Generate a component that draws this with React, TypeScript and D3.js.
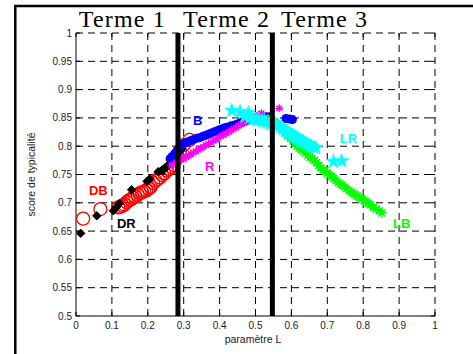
import React from "react";
import * as d3 from "d3";

const W = 473;
const H = 354;

const xTicks = [0, 0.1, 0.2, 0.3, 0.4, 0.5, 0.6, 0.7, 0.8, 0.9, 1];
const yTicks = [0.5, 0.55, 0.6, 0.65, 0.7, 0.75, 0.8, 0.85, 0.9, 0.95, 1];
const xTickLabels = ["0", "0.1", "0.2", "0.3", "0.4", "0.5", "0.6", "0.7", "0.8", "0.9", "1"];
const yTickLabels = ["0.5", "0.55", "0.6", "0.65", "0.7", "0.75", "0.8", "0.85", "0.9", "0.95", "1"];

const titles = ["Terme 1", "Terme 2", "Terme 3"];
const titleX = [0.008, 0.298, 0.571];

const boundaries = [0.284, 0.547];

// DB : red open circles
const dbX = [0.02, 0.068, 0.118, 0.124, 0.13, 0.135, 0.141, 0.147, 0.153, 0.158, 0.165, 0.172, 0.178, 0.184, 0.19, 0.196, 0.202, 0.208, 0.215, 0.222, 0.228, 0.234, 0.24, 0.246, 0.253, 0.26, 0.266, 0.272, 0.28, 0.29, 0.3, 0.316];
const dbY = [0.672, 0.689, 0.692, 0.693, 0.695, 0.697, 0.701, 0.704, 0.706, 0.709, 0.711, 0.714, 0.717, 0.719, 0.72, 0.722, 0.725, 0.728, 0.735, 0.739, 0.742, 0.745, 0.749, 0.752, 0.757, 0.76, 0.763, 0.767, 0.778, 0.792, 0.802, 0.811];

// DR : black diamonds
const drX = [0.013, 0.058, 0.104, 0.112, 0.121, 0.155, 0.198, 0.205, 0.229, 0.238, 0.243, 0.25, 0.255, 0.26, 0.265, 0.27, 0.275, 0.28, 0.287, 0.295];
const drY = [0.646, 0.677, 0.686, 0.692, 0.699, 0.723, 0.738, 0.742, 0.755, 0.757, 0.758, 0.762, 0.765, 0.768, 0.772, 0.776, 0.779, 0.784, 0.789, 0.795];

// B : blue filled circles
const bX = [0.262, 0.268, 0.275, 0.282, 0.29, 0.298, 0.305, 0.312, 0.32, 0.328, 0.336, 0.344, 0.352, 0.36, 0.368, 0.376, 0.384, 0.392, 0.4, 0.408, 0.416, 0.424, 0.432, 0.44, 0.448, 0.456, 0.464, 0.472, 0.48, 0.488, 0.496, 0.504, 0.512, 0.52, 0.53, 0.54, 0.585, 0.595, 0.603];
const bY = [0.778, 0.782, 0.787, 0.793, 0.799, 0.804, 0.806, 0.808, 0.81, 0.812, 0.814, 0.815, 0.817, 0.819, 0.821, 0.823, 0.825, 0.827, 0.829, 0.831, 0.833, 0.834, 0.836, 0.837, 0.839, 0.841, 0.843, 0.845, 0.847, 0.848, 0.849, 0.85, 0.851, 0.851, 0.852, 0.852, 0.849, 0.848, 0.847];

// R : magenta stars (plus-like)
const rX = [0.265, 0.272, 0.28, 0.287, 0.294, 0.3, 0.307, 0.314, 0.32, 0.327, 0.334, 0.341, 0.348, 0.355, 0.362, 0.369, 0.376, 0.383, 0.39, 0.397, 0.404, 0.411, 0.418, 0.425, 0.432, 0.439, 0.446, 0.453, 0.46, 0.467, 0.474, 0.481, 0.488, 0.495, 0.502, 0.509, 0.517, 0.566];
const rY = [0.766, 0.768, 0.771, 0.774, 0.776, 0.778, 0.781, 0.783, 0.786, 0.789, 0.791, 0.794, 0.796, 0.799, 0.802, 0.804, 0.807, 0.81, 0.812, 0.815, 0.818, 0.82, 0.823, 0.825, 0.828, 0.831, 0.833, 0.836, 0.839, 0.841, 0.844, 0.846, 0.849, 0.851, 0.853, 0.855, 0.858, 0.867];

// LB : green asterisks
const lbX = [0.525, 0.535, 0.545, 0.552, 0.56, 0.567, 0.575, 0.582, 0.59, 0.597, 0.604, 0.61, 0.616, 0.622, 0.628, 0.634, 0.64, 0.646, 0.652, 0.658, 0.664, 0.67, 0.676, 0.682, 0.688, 0.694, 0.7, 0.706, 0.712, 0.718, 0.724, 0.73, 0.736, 0.742, 0.748, 0.754, 0.76, 0.766, 0.772, 0.778, 0.784, 0.79, 0.796, 0.802, 0.808, 0.814, 0.82, 0.828, 0.836, 0.845, 0.852];
const lbY = [0.849, 0.848, 0.846, 0.843, 0.84, 0.835, 0.829, 0.824, 0.818, 0.814, 0.809, 0.806, 0.8, 0.797, 0.794, 0.791, 0.788, 0.784, 0.78, 0.778, 0.775, 0.771, 0.766, 0.762, 0.758, 0.757, 0.752, 0.749, 0.747, 0.743, 0.74, 0.736, 0.733, 0.731, 0.728, 0.725, 0.722, 0.719, 0.717, 0.714, 0.712, 0.71, 0.707, 0.704, 0.702, 0.699, 0.697, 0.692, 0.689, 0.686, 0.682];

// LR : cyan stars
const lrX = [0.434, 0.457, 0.48, 0.47, 0.485, 0.495, 0.503, 0.51, 0.518, 0.525, 0.532, 0.54, 0.548, 0.556, 0.563, 0.57, 0.577, 0.584, 0.59, 0.596, 0.602, 0.608, 0.614, 0.62, 0.626, 0.632, 0.638, 0.644, 0.65, 0.656, 0.662, 0.668, 0.717, 0.74];
const lrY = [0.863, 0.861, 0.859, 0.852, 0.85, 0.848, 0.846, 0.847, 0.845, 0.844, 0.842, 0.84, 0.839, 0.838, 0.836, 0.834, 0.83, 0.827, 0.825, 0.822, 0.82, 0.818, 0.815, 0.813, 0.81, 0.809, 0.806, 0.804, 0.802, 0.8, 0.798, 0.797, 0.773, 0.774];

const labelText = ["DB", "DR", "B", "R", "LR", "LB"];
const labelX = [0.036, 0.114, 0.326, 0.359, 0.735, 0.883];
const labelY = [0.714, 0.6555, 0.8375, 0.756, 0.806, 0.6555];
const labelColor = ["#ff0000", "#000000", "#0000ff", "#ff00ff", "#00ffff", "#00ff00"];

export default function App() {
  const x = d3.scaleLinear().domain([0, 1]).range([76, 435]);
  const y = d3.scaleLinear().domain([0.5, 1]).range([316, 33]);
  const star = d3.symbol().type(d3.symbolStar).size(60)() as string;
  const sans = "'Liberation Sans', Arial, sans-serif";
  const tl = 4;

  return (
    <svg width={W} height={H} style={{ position: "fixed", left: 0, top: 0, background: "#fff" }}>
      <rect x={0} y={0} width={W} height={H} fill="#fff" />
      <rect x={15.3} y={6} width={480} height={400} fill="none" stroke="#000" strokeWidth={2.5} />

      {/* grid */}
      {xTicks.slice(1).map((t, i) => (
        <line key={"gx" + i} x1={x(t)} x2={x(t)} y1={y(0.5)} y2={y(1)} stroke="#000" strokeWidth={1} strokeDasharray="7,5" />
      ))}
      {yTicks.slice(1).map((t, i) => (
        <line key={"gy" + i} x1={x(0)} x2={x(1)} y1={y(t)} y2={y(t)} stroke="#000" strokeWidth={1} strokeDasharray="7,5" />
      ))}

      {/* axes */}
      <line x1={x(0)} x2={x(1)} y1={y(0.5)} y2={y(0.5)} stroke="#000" />
      <line x1={x(0)} x2={x(0)} y1={y(0.5)} y2={y(1)} stroke="#000" />
      {xTicks.map((t, i) => (
        <g key={"tx" + i}>
          <line x1={x(t)} x2={x(t)} y1={y(0.5)} y2={y(0.5) - tl} stroke="#000" />
          <line x1={x(t)} x2={x(t)} y1={y(1)} y2={y(1) + tl} stroke="#000" />
          <text x={x(t)} y={y(0.5) + 13} textAnchor="middle" fontFamily={sans} fontSize={10} fill="#222">{xTickLabels[i]}</text>
        </g>
      ))}
      {yTicks.map((t, i) => (
        <g key={"ty" + i}>
          <line x1={x(0)} x2={x(0) + tl} y1={y(t)} y2={y(t)} stroke="#000" />
          <line x1={x(1)} x2={x(1) - tl} y1={y(t)} y2={y(t)} stroke="#000" />
          <text x={x(0) - 4} y={y(t) + 3.5} textAnchor="end" fontFamily={sans} fontSize={10} fill="#222">{yTickLabels[i]}</text>
        </g>
      ))}
      <text x={253} y={343} textAnchor="middle" fontFamily={sans} fontSize={10.5} fill="#222">paramètre L</text>
      <text transform={`translate(35,${(y(0.5) + y(1)) / 2}) rotate(-90)`} textAnchor="middle" fontFamily={sans} fontSize={10.5} fill="#222">score de typicalité</text>

      {/* titles */}
      {titles.map((t, i) => (
        <text key={"t" + i} x={x(titleX[i])} y={27} fontFamily="'Liberation Serif', 'Times New Roman', serif" fontSize={24} textLength={86} lengthAdjust="spacing">{t}</text>
      ))}

      {/* DB */}
      {dbX.map((v, i) => (
        <circle key={"db" + i} cx={x(v)} cy={y(dbY[i])} r={6.5} fill="none" stroke="#ff0000" strokeWidth={1.3} />
      ))}
      {/* DR */}
      {drX.map((v, i) => (
        <path key={"dr" + i} transform={`translate(${x(v)},${y(drY[i])})`} d="M0,-4.2L4.2,0L0,4.2L-4.2,0Z" fill="#000" stroke="#000" strokeWidth={1} />
      ))}
      {/* B */}
      {bX.map((v, i) => (
        <circle key={"b" + i} cx={x(v)} cy={y(bY[i])} r={4.5} fill="#0000ff" />
      ))}
      {/* R */}
      {rX.map((v, i) => (
        <path key={"r" + i} transform={`translate(${x(v)},${y(rY[i])})`} d="M-4,0H4M0,-4V4M-2.8,-2.8L2.8,2.8M-2.8,2.8L2.8,-2.8" stroke="#ff00ff" strokeWidth={1.3} fill="none" />
      ))}
      {/* LB */}
      {lbX.map((v, i) => (
        <path key={"lb" + i} transform={`translate(${x(v)},${y(lbY[i])})`} d="M-5,0H5M0,-5V5M-3.5,-3.5L3.5,3.5M-3.5,3.5L3.5,-3.5" stroke="#00ff00" strokeWidth={1.4} fill="none" />
      ))}
      {/* LR */}
      {lrX.map((v, i) => (
        <path key={"lr" + i} transform={`translate(${x(v)},${y(lrY[i])})`} d={star} fill="#00ffff" stroke="#00ffff" strokeWidth={0.8} />
      ))}

      {/* boundaries */}
      {boundaries.map((b, i) => (
        <line key={"bd" + i} x1={x(b)} x2={x(b)} y1={y(0.5)} y2={y(1)} stroke="#000" strokeWidth={5} />
      ))}

      {/* labels */}
      {labelText.map((t, i) => (
        <text key={"l" + i} x={x(labelX[i])} y={y(labelY[i])} fontFamily={sans} fontWeight="bold" fontSize={13} fill={labelColor[i]}>{t}</text>
      ))}
    </svg>
  );
}
